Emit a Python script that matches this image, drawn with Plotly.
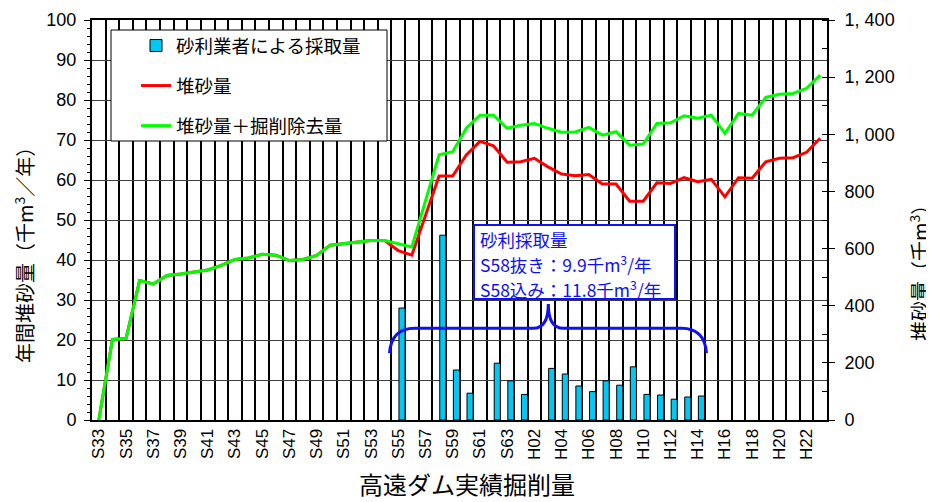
import plotly.graph_objects as go

# ---------------- data ----------------
years = ["S33", "S34", "S35", "S36", "S37", "S38", "S39", "S40", "S41", "S42",
         "S43", "S44", "S45", "S46", "S47", "S48", "S49", "S50", "S51", "S52",
         "S53", "S54", "S55", "S56", "S57", "S58", "S59", "S60", "S61", "S62",
         "S63", "H01", "H02", "H03", "H04", "H05", "H06", "H07", "H08", "H09",
         "H10", "H11", "H12", "H13", "H14", "H15", "H16", "H17", "H18", "H19",
         "H20", "H21", "H22", "H23"]

tick_labels = ["S33", "S35", "S37", "S39", "S41", "S43", "S45", "S47", "S49", "S51",
               "S53", "S55", "S57", "S59", "S61", "S63", "H02", "H04", "H06", "H08",
               "H10", "H12", "H14", "H16", "H18", "H20", "H22"]

# 堆砂量＋掘削除去量 (千m3, right axis)
green_vals = [0, 282, 285, 488, 476, 506, 511, 519, 525, 541,
              562, 567, 580, 577, 558, 562, 576, 612, 618, 624,
              628, 628, 616, 606, 767, 928, 939, 1021, 1067, 1067,
              1021, 1032, 1038, 1021, 1007, 1008, 1024, 997, 1009, 962,
              966, 1038, 1040, 1065, 1056, 1067, 1003, 1073, 1067, 1129,
              1140, 1143, 1161, 1207]

# 堆砂量 (千m3, right axis)
red_vals = [0, 282, 285, 488, 476, 506, 511, 519, 525, 541,
            562, 567, 580, 577, 558, 562, 576, 612, 618, 624,
            628, 628, 593, 577, 716, 854, 854, 928, 975, 960,
            902, 904, 916, 886, 861, 855, 859, 826, 826, 766,
            766, 830, 828, 848, 834, 842, 781, 848, 846, 904,
            916, 918, 937, 986]

# 砂利業者による採取量 (千m3/年, left axis)
bar_years = ["S55", "S58", "S59", "S60", "S62", "S63", "H01", "H03", "H04", "H05",
             "H06", "H07", "H08", "H09", "H10", "H11", "H12", "H13", "H14"]
bar_vals = [28.0, 46.2, 12.5, 6.7, 14.2, 9.8, 6.4, 12.9, 11.5, 8.5,
            7.1, 9.8, 8.7, 13.3, 6.4, 6.25, 5.2, 5.75, 6.0]

left_ticks = [0, 10, 20, 30, 40, 50, 60, 70, 80, 90, 100]
right_tickvals = [0, 200, 400, 600, 800, 1000, 1200, 1400]
right_ticktext = ["0", "200", "400", "600", "800", "1, 000", "1, 200", "1, 400"]

# ---------------- layout helpers ----------------
W, H = 934, 502
PAGE = 8                                # page body margin
L, R, T, B = 92, 827, 20, 420          # plot area in page pixels


def fx(px):
    return (px - L) / (R - L)


def fy(py):
    return (B - py) / (B - T)


JP = "Noto Sans CJK JP"
NUM = "Liberation Sans, Arial, sans-serif"
BLUE = "#1010F0"

xi = list(range(len(years)))
bar_x = [years.index(y) for y in bar_years]
tick_x = [years.index(t) for t in tick_labels]

fig = go.Figure()

fig.add_trace(go.Bar(
    x=bar_x, y=bar_vals, name="砂利業者による採取量",
    marker=dict(color="#00C8F5", line=dict(color="black", width=1)),
    width=0.45, offset=0.05, legendgroup="a", yaxis="y"))

fig.add_trace(go.Scatter(
    x=xi, y=red_vals, name="堆砂量", mode="lines",
    line=dict(color="#FF0000", width=3), legendgroup="b", yaxis="y2"))

fig.add_trace(go.Scatter(
    x=xi, y=green_vals, name="堆砂量＋掘削除去量", mode="lines",
    line=dict(color="#00FF00", width=3), legendgroup="c", yaxis="y2"))

fig.update_layout(
    width=W, height=H,
    margin=dict(l=L - PAGE, r=W - (R - PAGE), t=T - PAGE, b=H - (B - PAGE),
                autoexpand=False),
    paper_bgcolor="white", plot_bgcolor="white",
    font=dict(family=JP, color="black"),
    showlegend=True,
    legend=dict(x=fx(136), y=fy(27), xanchor="left", yanchor="top",
                bgcolor="rgba(0,0,0,0)", borderwidth=0,
                font=dict(family=JP, size=18.5, color="black"),
                traceorder="grouped", tracegroupgap=13),
    xaxis=dict(range=[-0.5, len(years) - 0.5], tickmode="array",
               tickvals=tick_x, ticktext=tick_labels, tickangle=-90,
               tickfont=dict(family=NUM, size=17), ticks="",
               showgrid=False, zeroline=False, automargin=False,
               showline=True, linecolor="black", linewidth=2, mirror=True,
               minor=dict(tick0=-0.5, dtick=1, showgrid=True,
                          gridcolor="black", gridwidth=2, ticks="")),
    yaxis=dict(range=[0, 100], tickmode="array", tickvals=left_ticks,
               tickfont=dict(family=NUM, size=18), ticks="outside",
               ticklen=6, tickcolor="black", ticklabelstandoff=4,
               showgrid=True, gridcolor="#3c3c3c", gridwidth=1,
               zeroline=False, showline=True, linecolor="black", linewidth=2,
               automargin=False,
               minor=dict(dtick=2, ticks="outside", ticklen=3,
                          tickcolor="black", showgrid=False)),
    yaxis2=dict(range=[0, 1400], overlaying="y", side="right",
                tickmode="array", tickvals=right_tickvals,
                ticktext=right_ticktext,
                tickfont=dict(family=NUM, size=18), ticks="outside",
                ticklen=6, tickcolor="black", ticklabelstandoff=6,
                showgrid=False, zeroline=False, showline=True,
                linecolor="black", linewidth=2, automargin=False,
                minor=dict(dtick=100, ticks="inside", ticklen=5,
                           tickcolor="black", showgrid=False)),
)

# legend frame
fig.add_shape(type="rect", xref="paper", yref="paper",
              x0=fx(111), x1=fx(387), y0=fy(141), y1=fy(30),
              fillcolor="white", line=dict(color="black", width=1),
              layer="above")

# annotation box
fig.add_shape(type="rect", xref="paper", yref="paper",
              x0=fx(474), x1=fx(675), y0=fy(299), y1=fy(225),
              fillcolor="white", line=dict(color=BLUE, width=2),
              layer="above")
box_lines = ["砂利採取量",
             "S58抜き：9.9千m<sup>3</sup>/年",
             "S58込み：11.8千m<sup>3</sup>/年"]
for i, t in enumerate(box_lines):
    fig.add_annotation(text=t, xref="paper", yref="paper",
                       x=fx(478), y=fy(239 + 25 * i), xanchor="left",
                       yanchor="middle", showarrow=False,
                       font=dict(family=JP, size=17.5, color=BLUE))

# curly brace
yb, yh, yp = 353, 328.3, 304
xl, xc, xr = 389.5, 548.3, 706.5
pts = [
    ("M", [(xl, yb)]),
    ("Q", [(xl + 2, yh), (xl + 25, yh)]),
    ("L", [(xc - 15, yh)]),
    ("Q", [(xc, yh), (xc, yp)]),
    ("Q", [(xc, yh), (xc + 15, yh)]),
    ("L", [(xr - 25, yh)]),
    ("Q", [(xr - 2, yh), (xr, yb)]),
]
path = " ".join(cmd + " " + " ".join(f"{fx(a):.5f},{fy(b):.5f}" for a, b in p)
                for cmd, p in pts)
fig.add_shape(type="path", xref="paper", yref="paper", path=path,
              line=dict(color=BLUE, width=3), layer="above")

# axis titles
fig.add_annotation(text="年間堆砂量（千m<sup>3</sup>／年）", xref="paper", yref="paper",
                   x=fx(24), y=fy(250), xanchor="center", yanchor="middle",
                   textangle=-90, showarrow=False,
                   font=dict(family=JP, size=20))
fig.add_annotation(text="堆砂量（千m<sup>3</sup>）", xref="paper", yref="paper",
                   x=fx(919), y=fy(268), xanchor="center", yanchor="middle",
                   textangle=-90, showarrow=False,
                   font=dict(family=JP, size=20))
fig.add_annotation(text="高遠ダム実績掘削量", xref="paper", yref="paper",
                   x=fx(467), y=fy(484), xanchor="center", yanchor="middle",
                   showarrow=False, font=dict(family=JP, size=24))

fig.write_html("out.html")
